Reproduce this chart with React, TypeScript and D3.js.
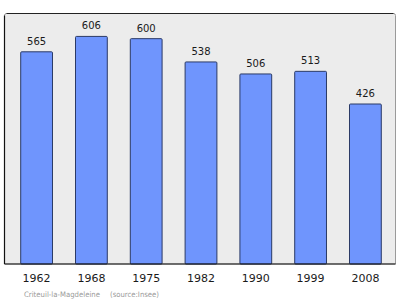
import React from "react";
import * as d3 from "d3";

const years = ["1962", "1968", "1975", "1982", "1990", "1999", "2008"];
const population = [565, 606, 600, 538, 506, 513, 426];
const footerTitle = "Criteuil-la-Magdeleine";
const footerSource = "(source:Insee)";

export default function App() {
  const W = 400, H = 299;
  const left = 4.5, right = 395.5, top = 13.5, bottom = 264;
  const x = d3.scaleBand().domain(years).range([9.2, 392.8]).paddingInner(0.42).paddingOuter(0.21);
  const y = d3.scaleLinear().domain([0, 667]).range([bottom, top]);
  return (
    <svg width={W} height={H} style={{ position: "absolute", left: 0, top: 0 }} fontFamily="DejaVu Sans, sans-serif">
      <rect x={0} y={0} width={W} height={H} fill="#ffffff" />
      <path
        d={`M${left},${bottom} L${left},${top + 2} Q${left},${top} ${left + 2},${top} L${right - 2},${top} Q${right},${top} ${right},${top + 2} L${right},${bottom} Z`}
        fill="#ececec"
        stroke="#9a9a9a"
        strokeWidth={1}
      />
      {population.map((v, i) => (
        <g key={years[i]}>
          <rect
            x={x(years[i])}
            y={y(v)}
            width={x.bandwidth()}
            height={bottom - y(v)}
            fill="#6f95fd"
            stroke="#2b3a66"
            strokeWidth={1}
            rx={1}
          />
          <text x={(x(years[i]) as number) + x.bandwidth() / 2} y={y(v) - 7} textAnchor="middle" fontSize={10} fill="#1a1a1a">
            {v}
          </text>
          <text x={(x(years[i]) as number) + x.bandwidth() / 2} y={281.5} textAnchor="middle" fontSize={11} fill="#1a1a1a">
            {years[i]}
          </text>
        </g>
      ))}
      <line x1={left} x2={left} y1={top + 2} y2={bottom} stroke="#111" strokeWidth={1.2} />
      <line x1={left} x2={right} y1={bottom} y2={bottom} stroke="#111" strokeWidth={1.2} />
      <line x1={left + 2} x2={right - 2} y1={top} y2={top} stroke="#222" strokeWidth={1} />
      <text x={24} y={297} fontSize={7.5} fill="#9a9a9a" textLength={76} lengthAdjust="spacingAndGlyphs">
        {footerTitle}
      </text>
      <text x={110} y={297} fontSize={7.5} fill="#9a9a9a" textLength={49} lengthAdjust="spacingAndGlyphs">
        {footerSource}
      </text>
    </svg>
  );
}
